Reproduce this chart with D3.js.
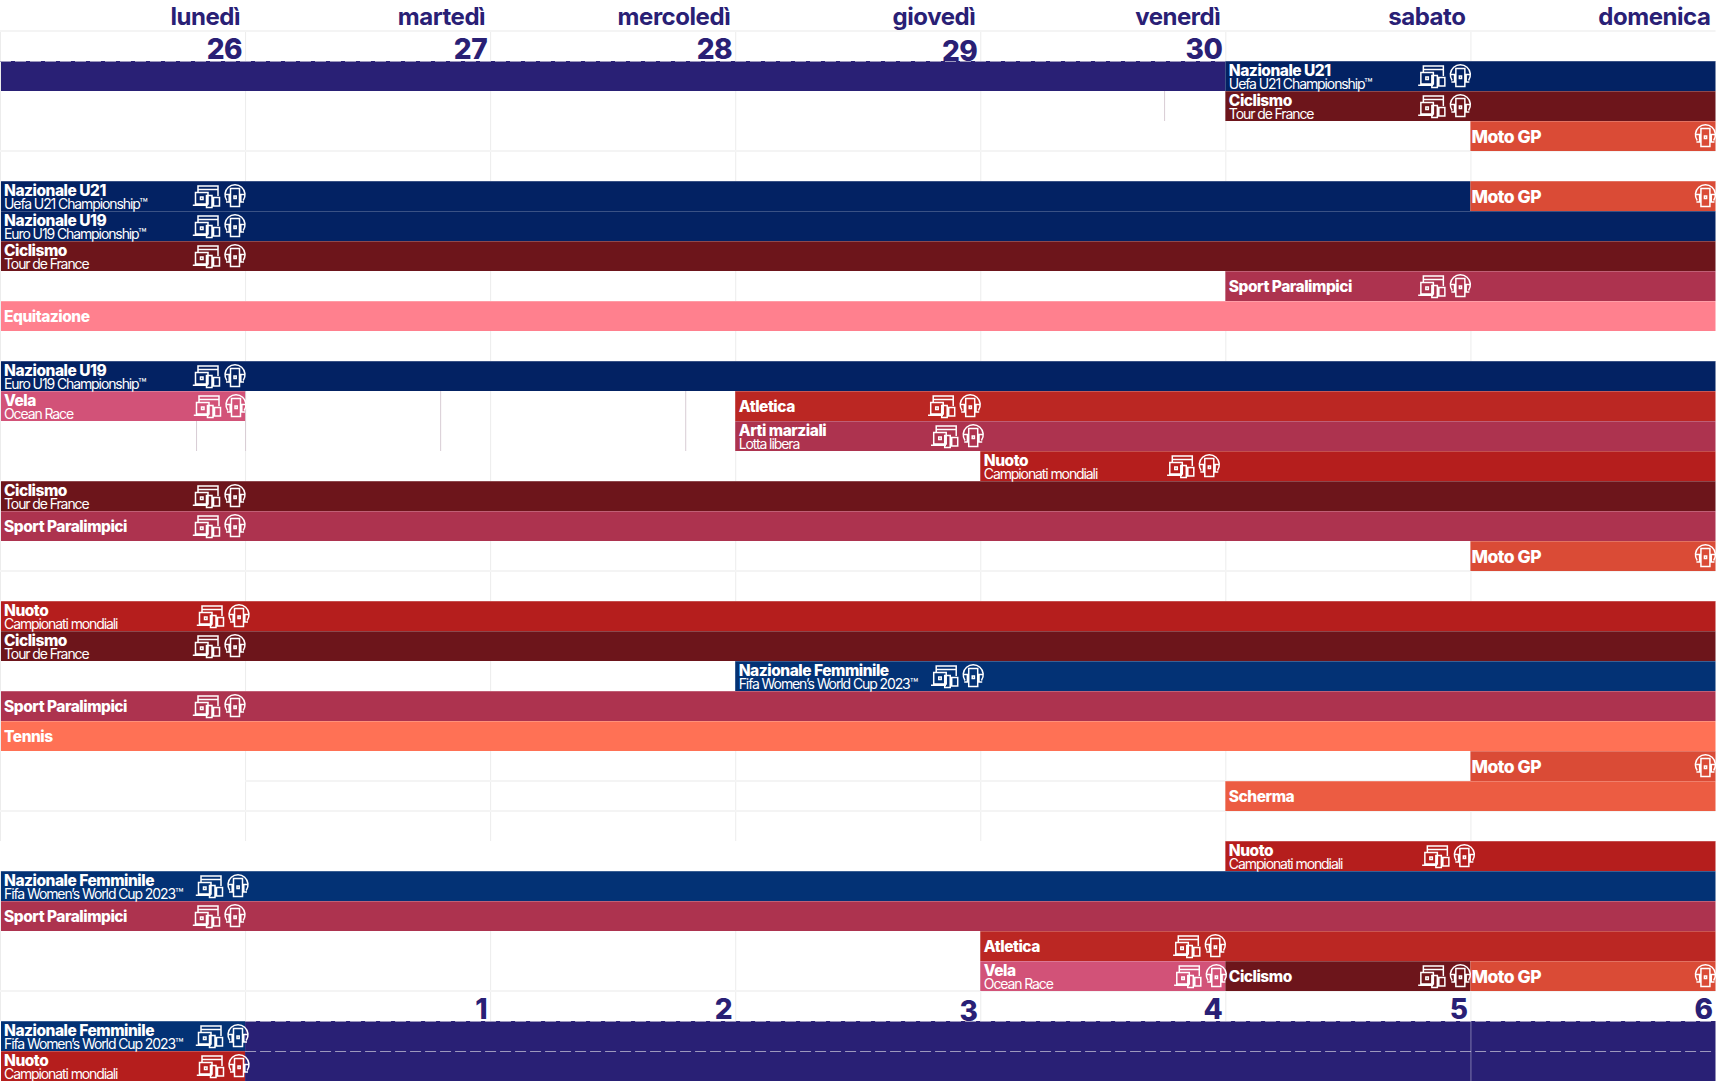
<!DOCTYPE html>
<html><head><meta charset="utf-8">
<script src="https://cdn.jsdelivr.net/npm/d3@7/dist/d3.min.js"></script>
<style>html,body{margin:0;padding:0;background:#fff;overflow:hidden}svg{display:block}text{font-family:Inter,"Noto Sans",sans-serif}</style>
</head><body><svg id="c" width="1717" height="1085"></svg>
<script>
const weekdays = ["lunedì","martedì","mercoledì","giovedì","venerdì","sabato","domenica"];
const topDates = [26,27,28,29,30,null,null];
const bottomDates = [null,1,2,3,4,5,6];
const sports = ["Pausa","Nazionale U21","Nazionale U19","Ciclismo","Moto GP","Sport Paralimpici","Equitazione","Vela","Atletica","Arti marziali","Nuoto","Nazionale Femminile","Tennis","Scherma"];
const subtitles = ["","Uefa U21 Championship™","Euro U19 Championship™","Tour de France","","","","Ocean Race","","Lotta libera","Campionati mondiali","Fifa Women’s World Cup 2023™","",""];
const sportColors = ["#292075","#032263","#032263","#6d151b","#da4b36","#ad334f","#ff808e","#d25278","#bb2723","#ad334f","#b51e1d","#033275","#ff7155","#ec5c42"];
// row, first day, day after last, sport
const rowIdx   = [0,0,1,2,4,4,5,6,7,8,10,11,11,12,13,14,15,16,18,19,20,21,22,23,24,26,27,28,29,30,30,30,32,32,33,33];
const dayStart = [0,5,5,6,0,6,0,0,5,0,0,0,3,3,4,0,0,6,0,0,3,0,0,6,5,5,0,0,4,4,5,6,0,1,0,1];
const dayEnd   = [5,7,7,7,6,7,7,7,7,7,7,1,7,7,7,7,7,7,7,7,7,7,7,7,7,7,7,7,7,5,6,7,1,7,1,7];
const sportIdx = [0,1,3,4,1,4,2,3,5,6,2,7,8,9,10,3,5,4,10,3,11,5,12,4,13,10,11,5,8,7,3,4,11,0,10,0];
const ciclismoShort = 30; // index of the one-line Ciclismo label
const paleLines = [[0,31],[0,151],[0,571],[1,781],[0,811],[0,991]]; // [first day, y of rule]
const stubs = [[4.75,1,1],[0.8,12,12],[1,11,12],[1.796,11,12],[2.796,11,12]]; // [day, first row, last row]

const N_ROWS = 34;
const x = d3.scaleLinear().domain([0,7]).range([0,1715.5]);
const y = d3.scaleBand().domain(d3.range(N_ROWS)).range([61,1081]);
const color = d3.scaleOrdinal().domain(sports).range(sportColors);
const svg = d3.select("#c");
const INK = "#292075";

// grid
const grid = svg.append("g");
const gridDays = d3.range(0,7);
[[31,841],[871,1021]].forEach(([a,b])=>{
  grid.selectAll(null).data(gridDays).join("line")
    .attr("x1",d=>x(d)+.5).attr("x2",d=>x(d)+.5).attr("y1",a).attr("y2",b)
    .attr("stroke","#ececec").attr("stroke-width",1);
});
grid.selectAll(null).data(paleLines).join("line")
  .attr("x1",d=>x(d[0])).attr("x2",x(7)).attr("y1",d=>d[1]).attr("y2",d=>d[1])
  .attr("stroke","#f4f4f4").attr("stroke-width",2);
grid.selectAll(null).data(stubs).join("line")
  .attr("x1",d=>x(d[0])+.5).attr("x2",d=>x(d[0])+.5)
  .attr("y1",d=>y(d[1])).attr("y2",d=>y(d[2])+y.bandwidth())
  .attr("stroke","#d8ccd4").attr("stroke-width",1);

// headers
svg.selectAll(null).data(weekdays).join("text")
  .attr("x",(d,i)=>x(i+1)-5).attr("y",25).attr("text-anchor","end")
  .attr("font-size",24).attr("font-weight",700).attr("letter-spacing",-.45).attr("fill",INK).text(d=>d);
function dates(arr,base){
  svg.selectAll(null).data(arr.map((d,i)=>({d,i})).filter(o=>o.d!==null)).join("text")
    .attr("x",o=>x(o.i+1)-3).attr("y",o=>base+(o.i===3?2:0)).attr("text-anchor","end")
    .attr("font-size",28).attr("font-weight",800).attr("letter-spacing",-.5).attr("fill",INK).text(o=>o.d);
}
dates(topDates,y(0)-2);

// bars
const events = rowIdx.map((r,i)=>({i,r,s:dayStart[i],e:dayEnd[i],sport:sports[sportIdx[i]],sub:subtitles[sportIdx[i]]}));
const bars = svg.append("g");
bars.selectAll("rect").data(events).join("rect")
  .attr("x",d=>d.s===0?1:x(d.s)).attr("y",d=>y(d.r))
  .attr("width",d=>x(d.e)-(d.s===0?1:x(d.s))).attr("height",y.bandwidth())
  .attr("fill",d=>color(d.sport));
bars.selectAll("line.sep").data(events.filter(d=>d.sport!=="Pausa")).join("line").attr("class","sep")
  .attr("x1",d=>d.s===0?1:x(d.s)).attr("x2",d=>x(d.e)).attr("y1",d=>y(d.r)+.5).attr("y2",d=>y(d.r)+.5)
  .attr("stroke","#fff").attr("stroke-opacity",.22);

// dashed rules over the purple bands
const dashes = [[0,0,5],[32,1,7],[33,1,7]];
svg.selectAll(null).data(dashes).join("line")
  .attr("x1",d=>x(d[1])).attr("x2",d=>x(d[2])).attr("y1",d=>y(d[0])+.5).attr("y2",d=>y(d[0])+.5)
  .attr("stroke","#9c98bd").attr("stroke-dasharray","11 4");
svg.append("line").attr("x1",x(6)+.5).attr("x2",x(6)+.5).attr("y1",y(32)).attr("y2",y(33)+y.bandwidth())
  .attr("stroke","#fff").attr("stroke-opacity",.4);

dates(bottomDates,y(32)-2);

// labels
const labelled = events.filter(d=>d.sport!=="Pausa");
const lab = svg.append("g").attr("fill","#fff");
function labelX(d){ return x(d.s)+(d.s===0?4:d.sport==="Moto GP"?1:3.5); }
lab.selectAll("text.t").data(labelled).join("text").attr("class","t")
  .attr("x",labelX)
  .attr("y",d=>y(d.r)+(hasSub(d)?15:d.sport==="Moto GP"?22:21))
  .attr("font-size",d=>d.sport==="Moto GP"?17.5:15.5).attr("font-weight",800).attr("letter-spacing",-.48).text(d=>d.sport);
lab.selectAll("text.s").data(labelled.filter(hasSub)).join("text").attr("class","s")
  .attr("x",labelX).attr("y",d=>y(d.r)+28)
  .attr("font-size",14).attr("font-weight",400).attr("letter-spacing",-1.1).text(d=>d.sub);
function hasSub(d){return d.sub!=="" && d.i!==ciclismoShort;}

// icons
const noIcons = new Set(["Tennis","Equitazione","Scherma"]);
function iconShift(d){
  if(d.sport==="Nuoto") return d.s===4?-6:4;
  if(d.sport==="Nazionale Femminile"||d.sport==="Arti marziali") return 3;
  if(d.sport==="Vela") return 1;
  return 0;
}
const devicePaths = "M5.5 8V1h20v10 M3 7.5h12.5v11.5H3z M.3 20.3h15 M14 10.5h5.5v12H14z M21 12.5h6v8.5h-6z M8 12h2.5v2.5H8z M5.5 4.5h20";
const phonePaths = "M1.8 15.5A10 10 0 1 1 18.2 15.5 M.8 9.5h3.4v7.5H1 M19.2 9.5h-3.4v7.5h3.2 M5.5 3.5h9v18h-9z M9 11h2.2v2.6H9z";
const icons = svg.append("g").attr("fill","none").attr("stroke","#fff").attr("stroke-width",1.5);
const iconEvents = labelled.filter(d=>!noIcons.has(d.sport));
icons.selectAll("path.d").data(iconEvents.filter(d=>d.sport!=="Moto GP")).join("path").attr("class","d")
  .attr("transform",d=>`translate(${x(d.s)+192.5+iconShift(d)},${y(d.r)+4})`).attr("d",devicePaths);
icons.selectAll("path.p").data(iconEvents).join("path").attr("class","p")
  .attr("transform",d=>`translate(${x(d.s)+225+iconShift(d)},${y(d.r)+4})`).attr("d",phonePaths);
</script></body></html>
